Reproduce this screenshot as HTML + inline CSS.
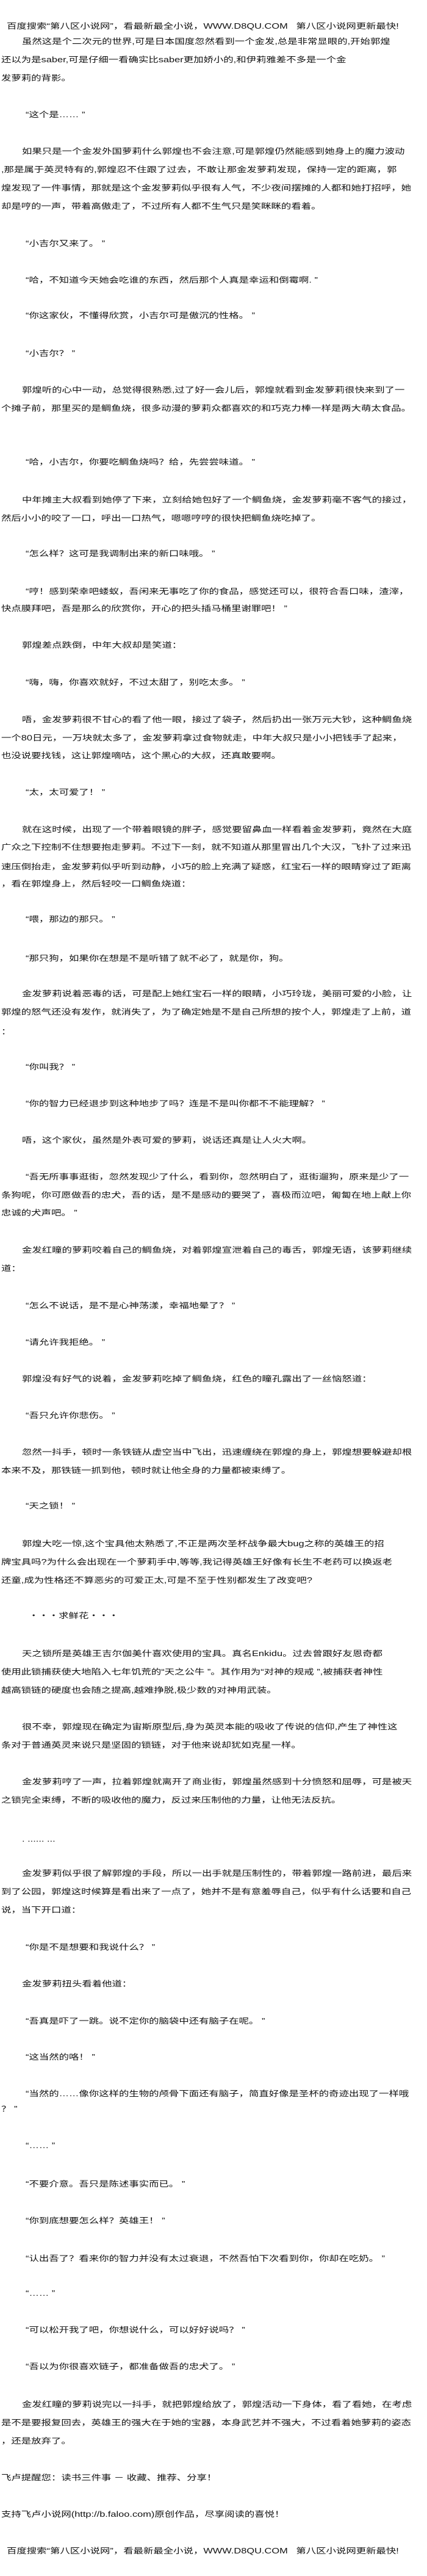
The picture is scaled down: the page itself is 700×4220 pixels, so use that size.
<!DOCTYPE html>
<html><head><meta charset="utf-8">
<style>
html,body{margin:0;padding:0;background:#fff;}
body{width:700px;height:4220px;position:relative;overflow:hidden;font-family:"Liberation Sans","Noto Sans CJK SC","WenQuanYi Zen Hei",sans-serif;color:#111;}
.l{position:absolute;white-space:nowrap;font-size:16.4px;line-height:18px;height:18px;transform:scaleY(0.78);transform-origin:left center;}
.a{left:2px}.i{left:36px}.q{left:42px}.h{left:11px}
</style></head><body>
<div class="l h" style="top:34px">百度搜索“第八区小说网”，看最新最全小说，WWW.D8QU.COM&nbsp;&nbsp;&nbsp;第八区小说网更新最快!</div>
<div class="l i" style="top:59px">虽然这是个二次元的世界,可是日本国度忽然看到一个金发,总是非常显眼的,开始郭煌</div>
<div class="l a" style="top:89px">还以为是saber,可是仔细一看确实比saber更加娇小的,和伊莉雅差不多是一个金</div>
<div class="l a" style="top:119px">发萝莉的背影。</div>
<div class="l q" style="top:179px">“这个是…… ”</div>
<div class="l i" style="top:239px">如果只是一个金发外国萝莉什么郭煌也不会注意,可是郭煌仍然能感到她身上的魔力波动</div>
<div class="l a" style="top:269px">,那是属于英灵特有的,郭煌忍不住跟了过去，不敢让那金发萝莉发现，保持一定的距离，郭</div>
<div class="l a" style="top:299px">煌发现了一件事情，那就是这个金发萝莉似乎很有人气，不少夜间摆摊的人都和她打招呼，她</div>
<div class="l a" style="top:329px">却是哼的一声，带着高傲走了，不过所有人都不生气只是笑眯眯的看着。</div>
<div class="l q" style="top:390px">“小吉尔又来了。 ”</div>
<div class="l q" style="top:450px">“哈，不知道今天她会吃谁的东西，然后那个人真是幸运和倒霉啊. ”</div>
<div class="l q" style="top:508px">“你这家伙，不懂得欣赏，小吉尔可是傲沉的性格。 ”</div>
<div class="l q" style="top:570px">“小吉尔？ ”</div>
<div class="l i" style="top:630px">郭煌听的心中一动，总觉得很熟悉,过了好一会儿后，郭煌就看到金发萝莉很快来到了一</div>
<div class="l a" style="top:660px">个摊子前，那里买的是鲷鱼烧，很多动漫的萝莉众都喜欢的和巧克力棒一样是两大萌太食品。</div>
<div class="l q" style="top:748px">“哈，小吉尔，你要吃鲷鱼烧吗？给，先尝尝味道。 ”</div>
<div class="l i" style="top:810px">中年摊主大叔看到她停了下来，立刻给她包好了一个鲷鱼烧，金发萝莉毫不客气的接过，</div>
<div class="l a" style="top:840px">然后小小的咬了一口，呼出一口热气，嗯嗯哼哼的很快把鲷鱼烧吃掉了。</div>
<div class="l q" style="top:898px">“怎么样？这可是我调制出来的新口味哦。 ”</div>
<div class="l q" style="top:960px">“哼！感到荣幸吧蝼蚁，吾闲来无事吃了你的食品，感觉还可以，很符合吾口味，渣滓，</div>
<div class="l a" style="top:988px">快点膜拜吧，吾是那么的欣赏你，开心的把头插马桶里谢罪吧！ ”</div>
<div class="l i" style="top:1048px">郭煌差点跌倒，中年大叔却是笑道：</div>
<div class="l q" style="top:1109px">“嗨，嗨，你喜欢就好，不过太甜了，别吃太多。 ”</div>
<div class="l i" style="top:1170px">唔，金发萝莉很不甘心的看了他一眼，接过了袋子，然后扔出一张万元大钞，这种鲷鱼烧</div>
<div class="l a" style="top:1200px">一个80日元，一万块就太多了，金发萝莉拿过食物就走，中年大叔只是小小把钱手了起来，</div>
<div class="l a" style="top:1229px">也没说要找钱，这让郭煌嘀咕，这个黑心的大叔，还真敢要啊。</div>
<div class="l q" style="top:1289px">“太，太可爱了！ ”</div>
<div class="l i" style="top:1350px">就在这时候，出现了一个带着眼镜的胖子，感觉要留鼻血一样看着金发萝莉，竟然在大庭</div>
<div class="l a" style="top:1379px">广众之下控制不住想要抱走萝莉。不过下一刻，就不知道从那里冒出几个大汉，飞扑了过来迅</div>
<div class="l a" style="top:1411px">速压倒抬走，金发萝莉似乎听到动静，小巧的脸上充满了疑惑，红宝石一样的眼睛穿过了距离</div>
<div class="l a" style="top:1439px">，看在郭煌身上，然后轻咬一口鲷鱼烧道：</div>
<div class="l q" style="top:1497px">“喂，那边的那只。 ”</div>
<div class="l q" style="top:1561px">“那只狗，如果你在想是不是听错了就不必了，就是你，狗。</div>
<div class="l i" style="top:1619px">金发萝莉说着恶毒的话，可是配上她红宝石一样的眼睛，小巧玲珑，美丽可爱的小脸，让</div>
<div class="l a" style="top:1649px">郭煌的怒气还没有发作，就消失了，为了确定她是不是自己所想的按个人，郭煌走了上前，道</div>
<div class="l a" style="top:1681px">：</div>
<div class="l q" style="top:1739px">“你叫我？ ”</div>
<div class="l q" style="top:1799px">“你的智力已经退步到这种地步了吗？连是不是叫你都不不能理解？ ”</div>
<div class="l i" style="top:1859px">唔，这个家伙，虽然是外表可爱的萝莉，说话还真是让人火大啊。</div>
<div class="l q" style="top:1919px">“吾无所事事逛街，忽然发现少了什么，看到你，忽然明白了，逛街遛狗，原来是少了一</div>
<div class="l a" style="top:1949px">条狗呢，你可愿做吾的忠犬，吾的话，是不是感动的要哭了，喜极而泣吧，匍匐在地上献上你</div>
<div class="l a" style="top:1978px">忠诚的犬声吧。 ”</div>
<div class="l i" style="top:2039px">金发红瞳的萝莉咬着自己的鲷鱼烧，对着郭煌宣泄着自己的毒舌，郭煌无语，该萝莉继续</div>
<div class="l a" style="top:2069px">道：</div>
<div class="l q" style="top:2130px">“怎么不说话，是不是心神荡漾，幸福地晕了？ ”</div>
<div class="l q" style="top:2190px">“请允许我拒绝。 ”</div>
<div class="l i" style="top:2250px">郭煌没有好气的说着，金发萝莉吃掉了鲷鱼烧，红色的瞳孔露出了一丝恼怒道：</div>
<div class="l q" style="top:2310px">“吾只允许你悲伤。 ”</div>
<div class="l i" style="top:2370px">忽然一抖手，顿时一条铁链从虚空当中飞出，迅速缠绕在郭煌的身上，郭煌想要躲避却根</div>
<div class="l a" style="top:2400px">本来不及，那铁链一抓到他，顿时就让他全身的力量都被束缚了。</div>
<div class="l q" style="top:2458px">“天之锁！ ”</div>
<div class="l i" style="top:2520px">郭煌大吃一惊,这个宝具他太熟悉了,不正是两次圣杯战争最大bug之称的英雄王的招</div>
<div class="l a" style="top:2550px">牌宝具吗?为什么会出现在一个萝莉手中,等等,我记得英雄王好像有长生不老药可以换返老</div>
<div class="l a" style="top:2580px">还童,成为性格还不算恶劣的可爱正太,可是不至于性别都发生了改变吧?</div>
<div class="l" style="left:47px;top:2638px">・・・求鲜花・・・</div>
<div class="l i" style="top:2700px">天之锁所是英雄王吉尔伽美什喜欢使用的宝具。真名Enkidu。过去曾跟好友恩奇都</div>
<div class="l a" style="top:2730px">使用此锁捕获使大地陷入七年饥荒的“天之公牛 ”。其作用为“对神的规戒 ”,被捕获者神性</div>
<div class="l a" style="top:2760px">越高锁链的硬度也会随之提高,越难挣脱,极少数的对神用武装。</div>
<div class="l i" style="top:2820px">很不幸，郭煌现在确定为宙斯原型后,身为英灵本能的吸收了传说的信仰,产生了神性这</div>
<div class="l a" style="top:2850px">条对于普通英灵来说只是坚固的锁链，对于他来说却犹如克星一样。</div>
<div class="l i" style="top:2910px">金发萝莉哼了一声，拉着郭煌就离开了商业街，郭煌虽然感到十分愤怒和屈辱，可是被天</div>
<div class="l a" style="top:2940px">之锁完全束缚，不断的吸收他的魔力，反过来压制他的力量，让他无法反抗。</div>
<div class="l i" style="top:3004px">. ...... ...</div>
<div class="l i" style="top:3060px">金发萝莉似乎很了解郭煌的手段，所以一出手就是压制性的，带着郭煌一路前进，最后来</div>
<div class="l a" style="top:3090px">到了公园，郭煌这时候算是看出来了一点了，她并不是有意羞辱自己，似乎有什么话要和自己</div>
<div class="l a" style="top:3120px">说，当下开口道：</div>
<div class="l q" style="top:3181px">“你是不是想要和我说什么？ ”</div>
<div class="l i" style="top:3241px">金发萝莉扭头看着他道：</div>
<div class="l q" style="top:3302px">“吾真是吓了一跳。说不定你的脑袋中还有脑子在呢。 ”</div>
<div class="l q" style="top:3361px">“这当然的咯！ ”</div>
<div class="l q" style="top:3421px">“当然的……像你这样的生物的颅骨下面还有脑子，简直好像是圣杯的奇迹出现了一样哦</div>
<div class="l a" style="top:3446px">？ ”</div>
<div class="l q" style="top:3506px">“…… ”</div>
<div class="l q" style="top:3569px">“不要介意。吾只是陈述事实而已。 ”</div>
<div class="l q" style="top:3629px">“你到底想要怎么样？英雄王！ ”</div>
<div class="l q" style="top:3691px">“认出吾了？看来你的智力并没有太过衰退，不然吾怕下次看到你，你却在吃奶。 ”</div>
<div class="l q" style="top:3748px">“…… ”</div>
<div class="l q" style="top:3808px">“可以松开我了吧，你想说什么，可以好好说吗？ ”</div>
<div class="l q" style="top:3868px">“吾以为你很喜欢链子，都准备做吾的忠犬了。 ”</div>
<div class="l i" style="top:3930px">金发红瞳的萝莉说完以一抖手，就把郭煌给放了，郭煌活动一下身体，看了看她，在考虑</div>
<div class="l a" style="top:3960px">是不是要报复回去，英雄王的强大在于她的宝器，本身武艺并不强大，不过看着她萝莉的姿态</div>
<div class="l a" style="top:3990px">，还是放弃了。</div>
<div class="l a" style="top:4050px">飞卢提醒您：读书三件事 － 收藏、推荐、分享！</div>
<div class="l a" style="top:4110px">支持飞卢小说网(http://b.faloo.com)原创作品，尽享阅读的喜悦！</div>
<div class="l h" style="top:4170px">百度搜索“第八区小说网”，看最新最全小说，WWW.D8QU.COM&nbsp;&nbsp;&nbsp;第八区小说网更新最快!</div>
</body></html>
